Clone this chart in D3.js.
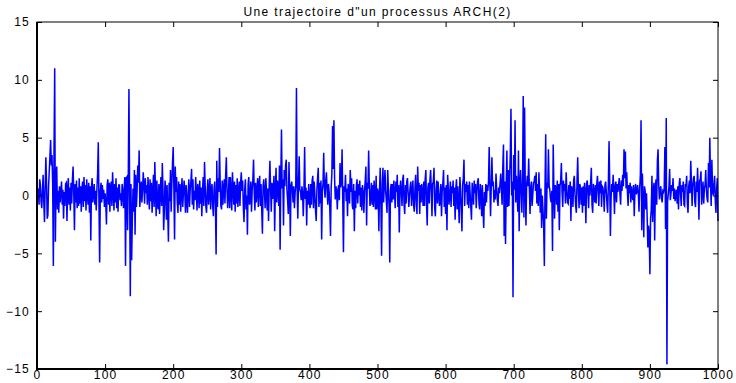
<!DOCTYPE html>
<html>
<head>
<meta charset="utf-8">
<script src="https://cdn.jsdelivr.net/npm/d3@7"></script>
<style>
  body { margin: 0; background: #fff; }
  svg { display: block; font-family: "Liberation Sans", Arial, Helvetica, sans-serif; }
</style>
</head>
<body>
<div id="chart"></div>
<script>
const titre = "Une trajectoire d\"un processus ARCH(2)";
const xTicks = [0, 100, 200, 300, 400, 500, 600, 700, 800, 900, 1000];
const yTicks = [-15, -10, -5, 0, 5, 10, 15];

// X_t, t = 1..1000
const trajectoire = [
  -0.3, 0.6, -0.8, 1.4, 0.9, -0.5, -1.1, 0.4, 1.8, -0.6, -2.3, 0.7, 3.3, 1.2, -2.0, -1.7, 0.8, 2.1, 3.4, 4.8,
  2.6, 3.5, 1.1, -6.1, 4.0, 11.0, -4.0, 1.2, 2.5, -1.2, 0.4, -1.5, 0.8, -0.6, 0.3, 1.2, -0.8, 0.5, -2.0, 0.3,
  -0.9, 1.0, 1.1, -2.2, 0.6, 1.5, -0.8, 0.7, -1.3, 1.1, -0.7, 1.4, 2.5, 0.2, -3.0, 1.0, -0.6, 1.3, -1.1, 0.7,
  -0.9, 1.5, -0.7, 0.8, -1.4, 0.6, 1.2, -1.0, 1.6, -0.5, 0.9, -1.3, 1.4, 0.1, -0.8, 1.1, -1.5, 0.8, -3.9, 0.7,
  1.5, -0.6, 0.2, 1.0, -0.8, 0.4, -1.3, 0.6, 1.9, 4.6, -0.7, -5.8, 0.4, 1.1, -0.6, 0.9, -0.3, 0.5, -1.0, 0.2,
  -0.8, -2.5, 0.9, 1.4, -0.8, 1.1, -1.4, 0.7, 1.2, -0.9, 2.0, 0.4, -1.3, 1.0, -0.6, 1.5, -1.1, 0.7, -1.4, 0.9,
  0.9, -0.4, 0.2, -0.9, 1.0, 0.3, -1.1, 0.6, 1.6, -6.1, 1.5, 1.6, -3.0, 1.2, 9.2, 0.8, -8.7, 1.0, -5.6, -2.0,
  0.6, -1.4, 2.2, -3.4, 1.8, -1.0, 0.5, 2.6, 1.1, 3.9, -1.0, 0.2, 1.2, -0.6, 0.5, 2.0, 0.8, -0.7, 1.5, 0.2,
  0.9, -0.8, 1.6, 0.2, -1.2, 1.4, -0.5, 1.1, -1.5, 0.3, 1.8, -1.0, 2.9, 0.4, -1.8, 1.3, -0.8, -1.2, 1.0, -1.6,
  0.4, 1.6, -0.9, 2.8, 0.6, -3.0, -1.2, 1.3, 0.5, -2.1, 0.9, -1.5, -4.0, 1.1, -0.5, 2.2, -1.4, 1.0, 2.8, 4.2,
  0.6, -3.8, 2.5, 0.3, 1.6, -0.6, -1.5, 1.2, -0.8, 1.0, -1.4, 0.4, 1.5, -1.0, 0.2, 1.3, 0.4, -1.5, 0.9, -0.6,
  -1.5, 0.3, 1.4, -1.0, 0.6, 1.2, 2.3, -0.8, 1.4, -1.2, 0.4, -0.4, 1.6, 0.2, -1.3, 1.0, 0.5, -1.1, 1.3, -0.7,
  0.7, -1.8, 0.4, 1.6, -0.9, 2.9, 0.8, -1.0, -1.5, 0.5, 1.4, -0.8, 0.3, 1.5, -1.2, 0.5, 1.0, -0.9, -1.8, 0.6,
  1.2, -0.8, -5.1, 3.0, -1.0, 1.5, 0.3, 4.1, 1.2, -0.9, -1.2, 1.3, -0.8, 0.6, 1.4, -0.7, 1.7, 3.3, 0.5, -1.1,
  0.0, 1.6, -1.1, 1.6, 0.4, -1.3, 2.0, 0.6, -0.8, 1.2, -1.4, 0.9, -0.7, 1.5, -1.0, 0.3, 1.2, -0.9, 1.1, 2.0,
  0.4, 1.3, -1.0, -2.3, 0.5, 1.4, -1.2, 0.0, -3.4, 1.0, 1.6, -0.8, -0.4, 1.2, -1.4, 0.5, 1.4, 3.1, 0.2, -1.3,
  1.1, -0.6, 0.4, 1.5, -1.0, 0.9, 1.7, -0.9, 1.0, -1.2, -3.3, 0.8, 1.4, 0.3, -1.1, 1.5, 0.4, -1.3, 0.6, -2.2,
  0.9, 3.0, 0.6, -1.4, 1.1, -0.3, 0.5, 1.7, -3.1, 0.4, 2.4, -0.6, 1.3, 0.8, -0.9, 2.6, -4.7, 1.2, 5.7, 0.6,
  1.4, -2.6, 2.2, 0.8, 2.6, 3.1, 0.5, -0.4, -1.6, 2.9, 0.3, -3.5, 0.9, 1.2, 0.5, -0.6, 0.8, -1.1, 0.2, 0.9,
  9.3, 0.6, -2.0, 1.1, 3.4, 0.5, 0.3, -0.4, 0.8, 0.2, -1.8, 0.5, 4.2, -0.3, 0.7, -2.6, 0.4, -0.8, 1.0, -0.5,
  -1.1, 1.0, -0.8, 1.3, 1.7, -1.1, 1.2, 0.2, -1.3, -2.2, 0.5, 1.5, 2.4, -1.0, 1.1, -0.7, 1.3, -3.8, 0.4, 1.0,
  3.7, 0.6, -0.2, 1.3, 2.0, 0.4, -0.8, 1.0, 0.3, -1.2, -3.5, 0.7, 1.9, 6.0, 2.3, 6.5, 1.5, -0.35, 0.8, 0.4,
  -1.2, 0.5, 0.9, -0.4, 2.8, 0.7, 1.2, 4.0, -0.6, -4.9, 0.8, 0.3, 1.8, -0.5, 0.6, -1.8, 1.0, 0.4, -0.7, 2.2,
  0.3, 1.5, -0.9, -1.2, 1.0, -3.1, 0.4, -1.1, 0.9, 1.4, -0.7, 1.0, 0.0, 1.3, -1.0, 0.7, -1.3, 0.9, 0.2, -1.5,
  0.4, 1.3, 2.5, -2.6, 1.1, 0.6, 3.9, 0.8, -0.9, -0.2, 1.1, -0.8, 0.9, -1.0, 1.3, 0.2, -1.2, 1.7, -1.2, 0.6,
  0.3, -3.1, 0.5, 2.4, -0.8, -5.2, 1.0, 2.4, -0.6, 0.9, 2.2, 0.4, -0.5, -1.5, 2.2, 0.6, -1.0, -5.8, 0.4, 1.0,
  -0.6, 1.0, -0.35, 1.3, 0.2, -1.1, 1.2, 0.3, 1.8, -1.0, 0.9, -3.2, 0.4, 1.3, 0.3, -0.9, 1.4, 1.8, -0.8, -1.6,
  0.9, -0.7, 1.2, 1.5, 0.2, -1.0, 0.0, 0.8, 1.2, -0.9, 0.3, 1.3, -0.8, -1.4, 0.6, 1.8, -0.7, -1.6, 2.5, 0.4,
  1.1, -1.6, 0.9, -0.6, 1.0, 0.3, -0.9, 1.2, -0.9, 1.4, 2.2, -0.8, -2.6, 0.7, 1.1, -0.7, 1.3, 2.2, 0.5, -1.8,
  1.0, 1.2, 2.4, -1.1, -1.8, 0.5, 1.3, -0.7, 1.2, 0.2, -0.9, -0.35, 1.0, -1.8, 0.4, 1.1, 2.2, -1.0, 0.7, -1.6,
  0.9, -3.0, 1.8, 0.6, -0.8, 0.0, 1.2, -1.0, 0.8, 0.2, 1.3, -0.9, 0.7, -2.1, 0.6, 1.4, -1.2, 0.8, -0.7, -2.4,
  1.6, 0.4, -1.2, -3.1, 0.9, 1.5, 3.1, -0.9, 1.0, 0.3, 1.2, -0.8, 0.9, -1.1, 1.2, 0.2, -1.0, -2.1, 1.1, 0.3,
  -0.8, 1.3, 0.2, 1.0, -1.1, 0.4, 1.2, 1.5, -0.7, -1.2, 1.0, 0.2, -1.8, 0.9, -1.3, -2.8, 0.3, -0.9, 1.0, -0.6,
  0.9, 0.4, 1.2, 4.2, 1.0, -1.8, 0.6, 3.3, 0.8, 1.2, -0.6, 0.5, -0.35, 1.9, 0.6, -0.4, -0.9, 0.7, 0.2, 1.1,
  1.9, 0.5, -0.8, 2.5, 4.4, -3.5, 1.2, -4.2, 0.8, 3.9, -1.0, 2.2, -0.9, 1.5, 3.6, 7.5, 0.0, 1.2, -8.8, 3.5,
  0.5, 6.5, -0.6, 1.7, 0.3, -1.4, 3.9, -3.1, 0.8, 2.2, 0.4, -1.5, 1.2, 8.6, -1.9, 7.6, 0.6, -2.6, 0.9, 1.7,
  0.8, 3.2, 0.6, -1.6, 0.7, 1.2, -0.9, 0.0, 1.1, 1.2, 1.7, 0.4, 2.0, -0.7, 1.0, -0.9, 2.0, 0.5, -1.5, 0.6,
  -2.8, 0.0, -1.2, -2.6, -6.1, 0.8, 5.3, -2.0, 1.1, 0.6, 4.0, 0.9, 0.5, -0.3, -0.6, 0.4, -4.8, 4.4, 0.7, -2.0,
  0.9, 0.7, -0.8, 1.3, -1.4, 1.0, -3.0, 0.8, 1.3, 2.8, 0.3, -1.0, 1.3, 0.4, 1.0, -0.7, 2.0, 0.6, -0.6, -0.7,
  0.9, -0.3, 1.2, -2.2, 0.8, 0.5, -1.0, 1.3, 1.7, 0.2, -0.9, -1.5, 1.3, 3.3, 0.4, -1.1, 1.0, 0.7, -0.8, 0.7,
  -1.5, 0.8, -0.9, 1.1, 0.2, -2.4, 1.0, 1.3, 0.3, -1.1, 0.9, 0.0, 1.2, 2.4, -0.8, -1.5, 1.0, 0.3, -0.6, 0.9,
  -0.7, 1.0, 1.7, 0.4, -0.9, 1.2, 0.2, 1.3, -1.0, 0.8, 0.7, 0.1, -1.4, 0.9, 1.2, 0.3, -0.8, -1.5, 1.0, 4.7,
  1.2, -3.5, -0.2, 1.0, 0.3, 1.8, 0.4, -1.6, 0.9, 1.2, -0.6, 1.0, 0.3, 0.9, 1.5, 0.2, -0.8, 1.3, 0.4, 1.8,
  0.8, 4.0, 1.5, 3.8, 0.6, 2.0, 0.3, -0.9, 0.9, 0.2, 1.1, -0.6, 0.8, 0.1, -0.4, 0.9, -1.8, 0.3, 1.0, 0.1,
  0.4, 0.9, 0.2, -1.4, 0.6, 1.8, 6.5, -3.0, 1.9, -0.5, -3.6, 0.8, 0.4, -1.2, 0.2, -1.9, -4.5, -2.6, -3.4, -6.8,
  -2.0, -1.2, 1.7, -2.3, 0.4, 1.1, -3.9, 0.6, 1.4, -0.8, 3.0, 4.0, 0.9, -0.35, 0.5, 0.8, -0.2, -0.6, 0.4, 0.3,
  0.6, 4.2, -2.9, 6.7, -14.6, -0.5, 0.1, 0.8, 2.3, -0.4, 0.2, 0.9, 0.4, 1.5, -0.3, 0.6, -0.5, 0.2, 0.5, -0.7,
  0.8, -1.2, 1.0, 1.5, 0.2, -0.9, 0.9, 0.3, 1.2, -0.8, -0.9, 1.0, 0.8, 1.7, -0.7, -1.5, 0.8, 1.3, 0.2, 3.0,
  1.1, -0.9, 0.8, 1.5, 1.7, -0.6, -1.0, 1.2, 0.3, 2.4, 0.5, -2.1, 1.3, 1.4, 2.1, -0.8, 0.35, 1.2, -0.7, 0.6,
  0.9, 2.2, 0.4, -0.3, -0.6, 2.8, 0.7, 5.0, 1.2, -0.9, 3.1, 0.5, 0.0, 0.9, 1.7, -0.4, -1.5, 0.6, 1.5, -2.2
];

const width = 736, height = 383;
const plot = { left: 37, right: 718, top: 22, bottom: 369 };
const fontStack = "\"Liberation Sans\", Arial, Helvetica, sans-serif";

const svg = d3.select("#chart").append("svg")
  .attr("width", width)
  .attr("height", height);

const x = d3.scaleLinear().domain([0, 1000]).range([plot.left, plot.right]);
const y = d3.scaleLinear().domain([-15, 15]).range([plot.bottom, plot.top]);

// series
const line = d3.line()
  .x((d, i) => x(i + 1))
  .y(d => y(d));

svg.append("path")
  .datum(trajectoire)
  .attr("d", line)
  .attr("fill", "none")
  .attr("stroke", "#0000ff")
  .attr("stroke-width", 1.5)
  .attr("stroke-linejoin", "miter");

// axes, ticks pointing inward on all four sides
const fmt = d => d3.format("d")(d).replace("-", "\u2212");

svg.append("g")
  .attr("transform", `translate(0,${plot.bottom})`)
  .call(d3.axisBottom(x).tickValues(xTicks).tickFormat(fmt)
    .tickSizeInner(-5).tickSizeOuter(0).tickPadding(1.5));

svg.append("g")
  .attr("transform", `translate(0,${plot.top})`)
  .call(d3.axisTop(x).tickValues(xTicks).tickFormat("")
    .tickSizeInner(-5).tickSizeOuter(0));

svg.append("g")
  .attr("transform", `translate(${plot.left},0)`)
  .call(d3.axisLeft(y).tickValues(yTicks).tickFormat(fmt)
    .tickSizeInner(-5).tickSizeOuter(0).tickPadding(7));

svg.append("g")
  .attr("transform", `translate(${plot.right},0)`)
  .call(d3.axisRight(y).tickValues(yTicks).tickFormat("")
    .tickSizeInner(-5).tickSizeOuter(0));

svg.selectAll(".domain").remove();
svg.selectAll(".tick line").attr("stroke", "#000");
svg.selectAll(".tick text")
  .attr("fill", "#000")
  .style("font-size", "12px")
  .style("letter-spacing", "1.2px")
  .style("font-family", fontStack);

// frame: left and bottom edges drawn heavier
svg.append("rect")
  .attr("x", plot.left).attr("y", plot.top)
  .attr("width", plot.right - plot.left).attr("height", plot.bottom - plot.top)
  .attr("fill", "none")
  .attr("stroke", "#000")
  .attr("stroke-width", 1);

svg.append("path")
  .attr("d", `M${plot.left},${plot.top}V${plot.bottom}H${plot.right}`)
  .attr("fill", "none")
  .attr("stroke", "#000")
  .attr("stroke-width", 2);

svg.append("text")
  .attr("x", (plot.left + plot.right) / 2)
  .attr("y", 16)
  .attr("text-anchor", "middle")
  .style("font-size", "12px")
  .style("letter-spacing", "1.4px")
  .style("font-family", fontStack)
  .text(titre);
</script>
</body>
</html>
